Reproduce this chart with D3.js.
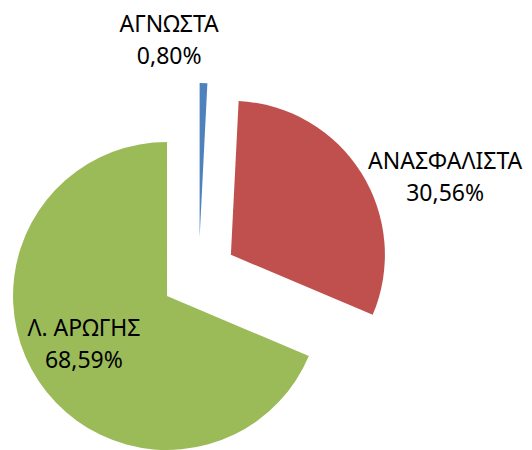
<!DOCTYPE html>
<html>
<head>
<meta charset="utf-8">
<script src="https://cdn.jsdelivr.net/npm/d3@7"></script>
<style>
  body { margin: 0; background: #fff; }
  svg { display: block; }
  .lbl { font-family: "Noto Sans", "Open Sans", sans-serif; font-size: 23px; fill: #000; }
</style>
</head>
<body>
<div id="chart"></div>
<script>
// chart data
const categories = ["ΑΓΝΩΣΤΑ", "ΑΝΑΣΦΑΛΙΣΤΑ", "Λ. ΑΡΩΓΗΣ"];
const values = [0.80, 30.56, 68.59];
const percentLabels = ["0,80%", "30,56%", "68,59%"];
const colors = ["#4F81BD", "#C0504D", "#9BBB59"];

const width = 532, height = 450;
const cx = 198.7, cy = 275;
const radius = 154;
const explode = 38;

// label placement relative to each exploded slice (angle in degrees from top, distance)
const labelPlace = [
  {angle: -8.8, dist: 199},
  {angle: 70, dist: 228},
  {angle: 240, dist: 96}
];

const svg = d3.select("#chart").append("svg")
    .attr("width", width)
    .attr("height", height);

const pie = d3.pie().sort(null).value(d => d.value);
const arc = d3.arc().innerRadius(0).outerRadius(radius);

const data = categories.map((c, i) => ({name: c, value: values[i], pct: percentLabels[i], color: colors[i], i: i}));
const arcs = pie(data);

function offset(d) {
  const mid = (d.startAngle + d.endAngle) / 2;
  return [cx + explode * Math.sin(mid), cy - explode * Math.cos(mid)];
}

const g = svg.selectAll("g.slice")
  .data(arcs)
  .enter().append("g")
    .attr("class", "slice")
    .attr("transform", d => `translate(${offset(d)})`);

g.append("path")
    .attr("d", arc)
    .attr("fill", d => d.data.color);

// labels
g.each(function(d) {
  const p = labelPlace[d.data.i];
  const a = p.angle * Math.PI / 180;
  const x = p.dist * Math.sin(a);
  const y = -p.dist * Math.cos(a);
  const t = d3.select(this).append("text")
      .attr("class", "lbl")
      .attr("text-anchor", "middle")
      .attr("transform", `translate(${x},${y})`);
  t.append("tspan").attr("x", 0).attr("y", -16).attr("dy", "0.35em").text(d.data.name);
  t.append("tspan").attr("x", 0).attr("y", 16).attr("dy", "0.35em").text(d.data.pct);
});
</script>
</body>
</html>
